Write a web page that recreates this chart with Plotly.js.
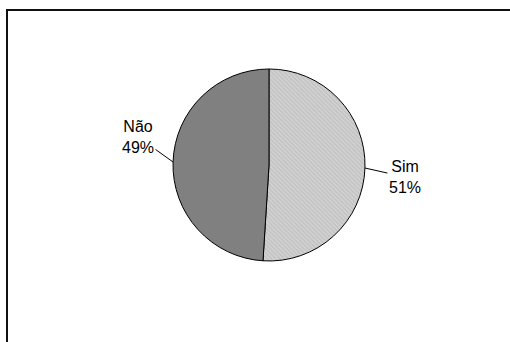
<!DOCTYPE html>
<html>
<head>
<meta charset="utf-8">
<script src="https://cdn.plot.ly/plotly-3.0.1.min.js"></script>
<style>html,body{margin:0;padding:0;background:#fff;}#chart{width:510px;height:342px;}</style>
</head>
<body>
<div id="chart"></div>
<script>
const labels = ['Sim', 'Não'];
const values = [51, 49];
const percentText = ['51%', '49%'];

const W = 510, H = 342;
const cxPx = 269, cyPx = 165, rPx = 96;

const total = values.reduce((a, b) => a + b, 0);
// label offsets (pixels) from the slice edge point to the label centre
const offsets = [[40, 9], [-35, -25]];
const annotations = [];
let cum = 0;
values.forEach((v, i) => {
  const mid = (cum + v / 2) / total * 2 * Math.PI; // clockwise from 12 o'clock
  cum += v;
  const ex = cxPx + rPx * Math.sin(mid);
  const ey = cyPx - rPx * Math.cos(mid);
  annotations.push({
    xref: 'paper', yref: 'paper',
    x: ex / W, y: 1 - ey / H,
    text: labels[i] + '<br>' + percentText[i],
    showarrow: true, arrowhead: 0, arrowwidth: 1, arrowcolor: '#000',
    ax: offsets[i][0], ay: offsets[i][1],
    font: {family: 'Liberation Sans, Arial, sans-serif', size: 16, color: '#000'},
    align: 'center', borderpad: 1
  });
});

const trace = {
  type: 'pie',
  labels: labels,
  values: values,
  sort: false,
  direction: 'clockwise',
  rotation: 0,
  textinfo: 'none',
  hoverinfo: 'label+percent',
  domain: {x: [(cxPx - rPx) / W, (cxPx + rPx) / W], y: [1 - (cyPx + rPx) / H, 1 - (cyPx - rPx) / H]},
  marker: {
    colors: ['#cccccc', '#808080'],
    line: {color: '#000', width: 1},
    pattern: {
      shape: ['\\', ''],
      fgcolor: ['#ababab', '#808080'],
      bgcolor: ['#d2d2d2', '#808080'],
      size: 3,
      solidity: 0.4,
      fillmode: 'overlay'
    }
  }
};

const layout = {
  width: W, height: H,
  margin: {l: 0, r: 0, t: 0, b: 0},
  paper_bgcolor: '#fff',
  showlegend: false,
  annotations: annotations,
  shapes: [{
    type: 'rect', xref: 'paper', yref: 'paper',
    x0: 7 / W, x1: 1.05, y0: -0.05, y1: 1 - 10 / H,
    line: {color: '#111', width: 2}, fillcolor: 'rgba(0,0,0,0)', layer: 'below'
  }]
};

Plotly.newPlot('chart', [trace], layout, {displayModeBar: false, staticPlot: true});
</script>
</body>
</html>
